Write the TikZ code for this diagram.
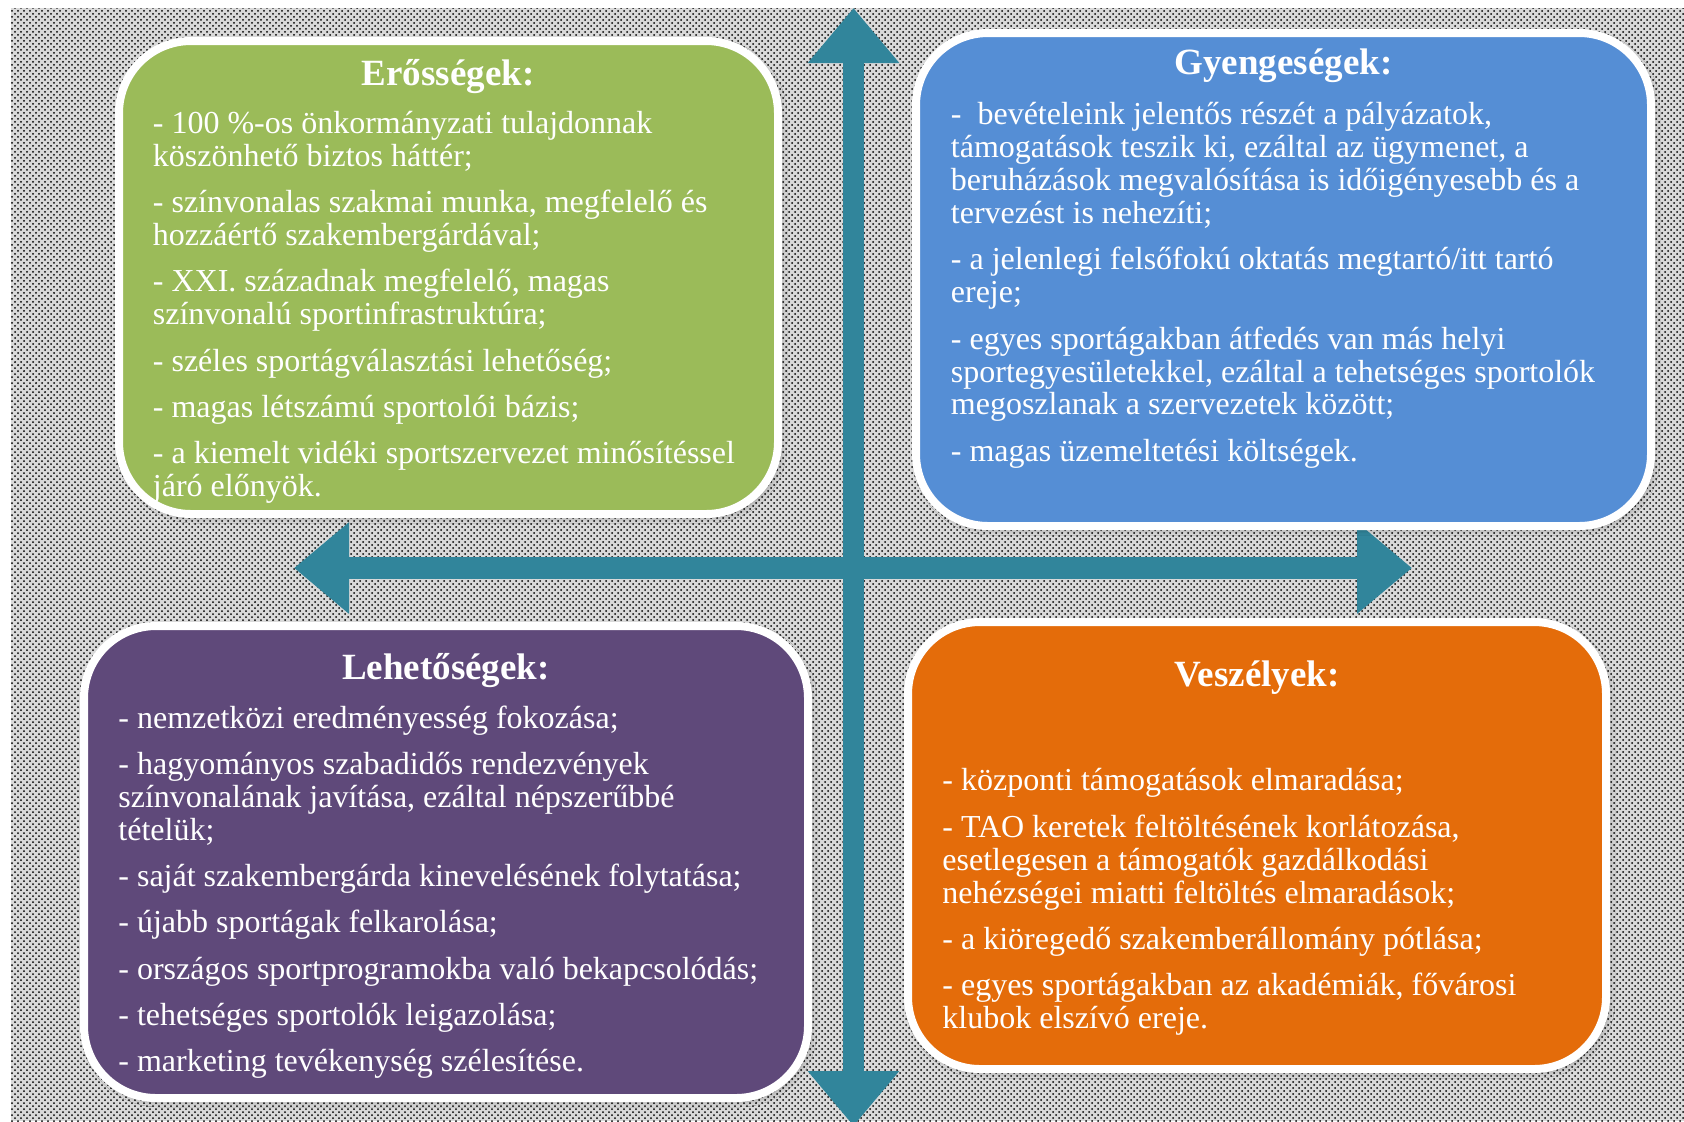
\documentclass[tikz,border=0pt]{standalone}
\usepackage{fontspec}
\setmainfont{Liberation Serif}
\usepackage{xcolor}
\definecolor{swot-green}{RGB}{155,187,89}
\definecolor{swot-blue}{RGB}{85,142,213}
\definecolor{swot-purple}{RGB}{95,73,122}
\definecolor{swot-orange}{RGB}{228,108,10}
\definecolor{axis-teal}{RGB}{49,133,155}
\definecolor{bg-gray}{RGB}{217,217,217}
\usetikzlibrary{arrows.meta,patterns,shadows.blur}

\begin{document}
\begin{tikzpicture}[
    x=0.5pt, y=-0.5pt,
    every node/.style={inner sep=0pt},
    swotbox/.style={draw=white, line width=4pt, rounded corners=36pt,
        blur shadow={shadow xshift=1.5pt, shadow yshift=-1.5pt, shadow blur radius=3pt, shadow opacity=35}},
    boxtitle/.style={font=\fontsize{18.5}{20}\selectfont\bfseries, text=white, anchor=base},
    boxtext/.style={font=\fontsize{16}{16.45}\selectfont, text=white, align=left, anchor=north west},
    axisarrow/.style={axis-teal, line width=10.75pt,
        {Triangle[length=27.5pt,width=44pt]}-{Triangle[length=27.5pt,width=44pt]}}
]

% Page and dotted background
\fill[white] (0,0) rectangle (1684,1121);
\useasboundingbox (0,0) rectangle (1684,1121);
\fill[bg-gray] (11,8) rectangle (1684,1121);
\fill[pattern=crosshatch dots, pattern color=black] (11,8) rectangle (1684,1121);

% Axes
\coordinate (axis-top) at (853.5,8);
\coordinate (axis-bottom) at (853.5,1126);
\coordinate (axis-left) at (294,568);
\coordinate (axis-right) at (1412,568);
\draw[axisarrow] (axis-bottom) -- (axis-top);
\draw[axisarrow] (axis-left) -- (axis-right);

% Quadrant boxes
\node[swotbox, fill=swot-green, minimum width=329.5pt, minimum height=236.5pt] (strengths) at (448.5,277.5) {};
\node[swotbox, fill=swot-blue, minimum width=367.5pt, minimum height=246.5pt] (weaknesses) at (1283.5,279.5) {};
\node[swotbox, fill=swot-purple, minimum width=362pt, minimum height=236pt] (opportunities) at (446,862) {};
\node[swotbox, fill=swot-orange, minimum width=349pt, minimum height=223.5pt] (threats) at (1257,845.5) {};

% Titles
\node[boxtitle] (strengths-title) at (448,85) {Erősségek:};
\node[boxtitle] (weaknesses-title) at (1283.5,74.3) {Gyengeségek:};
\node[boxtitle] (opportunities-title) at (446,679) {Lehetőségek:};
\node[boxtitle] (threats-title) at (1257,686.5) {Veszélyek:};

% Strengths
\node[boxtext] (strengths-text) at (152.5,110.8) {
- 100 \%-os önkormányzati tulajdonnak\\
köszönhető biztos háttér;\\[6.7pt]
- színvonalas szakmai munka, megfelelő és\\
hozzáértő szakembergárdával;\\[6.7pt]
- XXI. századnak megfelelő, magas\\
színvonalú sportinfrastruktúra;\\[6.7pt]
- széles sportágválasztási lehetőség;\\[6.7pt]
- magas létszámú sportolói bázis;\\[6.7pt]
- a kiemelt vidéki sportszervezet minősítéssel\\
járó előnyök.
};

% Weaknesses
\node[boxtext] (weaknesses-text) at (950.5,102.3) {
-~ bevételeink jelentős részét a pályázatok,\\
támogatások teszik ki, ezáltal az ügymenet, a\\
beruházások megvalósítása is időigényesebb és a\\
tervezést is nehezíti;\\[6.7pt]
- a jelenlegi felsőfokú oktatás megtartó/itt tartó\\
ereje;\\[6.7pt]
- egyes sportágakban átfedés van más helyi\\
sportegyesületekkel, ezáltal a tehetséges sportolók\\
megoszlanak a szervezetek között;\\[6.7pt]
- magas üzemeltetési költségek.
};

% Opportunities
\node[boxtext] (opportunities-text) at (118,705.3) {
- nemzetközi eredményesség fokozása;\\[6.7pt]
- hagyományos szabadidős rendezvények\\
színvonalának javítása, ezáltal népszerűbbé\\
tételük;\\[6.7pt]
- saját szakembergárda kinevelésének folytatása;\\[6.7pt]
- újabb sportágak felkarolása;\\[6.7pt]
- országos sportprogramokba való bekapcsolódás;\\[6.7pt]
- tehetséges sportolók leigazolása;\\[6.7pt]
- marketing tevékenység szélesítése.
};

% Threats
\node[boxtext] (threats-text) at (942,768.3) {
- központi támogatások elmaradása;\\[6.7pt]
- TAO keretek feltöltésének korlátozása,\\
esetlegesen a támogatók gazdálkodási\\
nehézségei miatti feltöltés elmaradások;\\[6.7pt]
- a kiöregedő szakemberállomány pótlása;\\[6.7pt]
- egyes sportágakban az akadémiák, fővárosi\\
klubok elszívó ereje.
};

\end{tikzpicture}
\end{document}
